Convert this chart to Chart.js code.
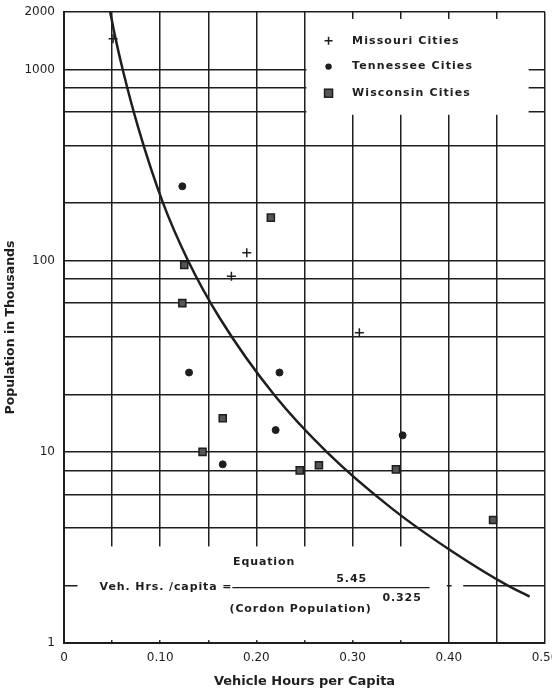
<!DOCTYPE html>
<html>
<head>
<meta charset="utf-8">
<script src="https://cdn.jsdelivr.net/npm/chart.js@4.4.1/dist/chart.umd.min.js"></script>
<style>
  html, body { margin: 0; padding: 0; background: #fff; }
  #wrap { width: 552px; height: 689px; }
</style>
</head>
<body>
<div id="wrap"><canvas id="chart"></canvas></div>
<script>
// ================= DATA =================
const missouriX = [0.051, 0.174, 0.19, 0.307];
const missouriPop = [1450, 83, 110, 42];

const tennesseeX = [0.123, 0.13, 0.165, 0.22, 0.224, 0.352];
const tennesseePop = [245, 26, 8.6, 13, 26, 12.2];

const wisconsinX = [0.125, 0.123, 0.215, 0.165, 0.144, 0.245, 0.265, 0.345, 0.446];
const wisconsinPop = [95, 60, 168, 15, 10, 8, 8.5, 8.1, 4.4];

// fitted curve, points
const curveX = [0.048, 0.053, 0.061, 0.077, 0.103, 0.129, 0.162, 0.218, 0.273, 0.342, 0.404, 0.461, 0.484];
const curvePop = [2000, 1500, 1000, 500, 200, 100, 50, 20, 10, 5, 3, 2, 1.75];

const yGridValues = [1, 2, 4, 6, 8, 10, 20, 40, 60, 80, 100, 200, 400, 600, 800, 1000, 2000];
const yLabelValues = [1, 10, 100, 1000, 2000];
const xTickLabels = ["0", "0.10", "0.20", "0.30", "0.40", "0.50"];

const legendLabels = ["Missouri Cities", "Tennessee Cities", "Wisconsin Cities"];

const toPoints = (xs, ys) => xs.map((x, i) => ({ x: x, y: ys[i] }));

// ================= STYLE =================
const INK = '#1e1e1e';
const FONT = '"DejaVu Sans", sans-serif';

// ================= PLUGINS =================
// white boxes where the legend and the equation sit on top of the grid
const maskPlugin = {
    id: 'masks',
    beforeDatasetsDraw(chart) {
        const { ctx, scales: { x, y } } = chart;
        const boxes = [
            [0.252, 0.483, 580, 1840],
            [0.014, 0.398, 1.035, 3.2],
            [0.403, 0.415, 1.9, 2.1]
        ];
        ctx.save();
        ctx.fillStyle = '#fff';
        boxes.forEach(b => {
            const x0 = x.getPixelForValue(b[0]), x1 = x.getPixelForValue(b[1]);
            const y0 = y.getPixelForValue(b[2]), y1 = y.getPixelForValue(b[3]);
            ctx.fillRect(x0, y1, x1 - x0, y0 - y1);
        });
        ctx.restore();
    }
};

const annotatePlugin = {
    id: 'annotate',
    afterDraw(chart) {
        const { ctx, scales: { x, y } } = chart;
        ctx.save();
        ctx.fillStyle = INK;
        ctx.strokeStyle = INK;
        ctx.textBaseline = 'middle';
        ctx.font = 'bold 11px ' + FONT;
        ctx.letterSpacing = '1.1px';

        // legend
        const mx = x.getPixelForValue(0.275);
        const tx = x.getPixelForValue(0.2995);
        const rows = [1413, 1036, 752].map(v => y.getPixelForValue(v));
        legendLabels.forEach((lab, i) => {
            ctx.fillText(lab, tx, rows[i]);
        });
        ctx.lineWidth = 1.5;
        ctx.beginPath();
        ctx.moveTo(mx - 4, rows[0]); ctx.lineTo(mx + 4, rows[0]);
        ctx.moveTo(mx, rows[0] - 4); ctx.lineTo(mx, rows[0] + 4);
        ctx.stroke();
        ctx.beginPath();
        ctx.arc(mx, rows[1], 3.2, 0, Math.PI * 2);
        ctx.fill();
        ctx.fillStyle = '#555';
        ctx.fillRect(mx - 4, rows[2] - 4, 8, 8);
        ctx.strokeRect(mx - 4, rows[2] - 4, 8, 8);
        ctx.fillStyle = INK;

        // equation
        ctx.letterSpacing = '0.9px';
        ctx.textAlign = 'center';
        ctx.fillText('Equation', x.getPixelForValue(0.208), y.getPixelForValue(2.66));
        ctx.fillText('5.45', x.getPixelForValue(0.299), y.getPixelForValue(2.17));
        ctx.textAlign = 'left';
        ctx.fillText('Veh. Hrs. /capita =', x.getPixelForValue(0.037), y.getPixelForValue(1.97));
        ctx.fillText('(Cordon Population)', x.getPixelForValue(0.172), y.getPixelForValue(1.5));
        ctx.fillText('0.325', x.getPixelForValue(0.331), y.getPixelForValue(1.71));
        ctx.lineWidth = 1.3;
        ctx.beginPath();
        const ly = y.getPixelForValue(1.95);
        ctx.moveTo(x.getPixelForValue(0.175), ly);
        ctx.lineTo(x.getPixelForValue(0.38), ly);
        ctx.stroke();
        ctx.restore();
    }
};

// ================= CHART =================
const ctx = document.getElementById('chart').getContext('2d');

new Chart(ctx, {
    type: 'scatter',
    data: {
        datasets: [
            {
                label: 'Curve',
                data: toPoints(curveX, curvePop),
                showLine: true,
                borderColor: INK,
                borderWidth: 2.5,
                pointRadius: 0,
                cubicInterpolationMode: 'monotone'
            },
            {
                label: legendLabels[0],
                data: toPoints(missouriX, missouriPop),
                pointStyle: 'cross',
                pointRadius: 4.5,
                borderColor: INK,
                borderWidth: 1.5
            },
            {
                label: legendLabels[1],
                data: toPoints(tennesseeX, tennesseePop),
                pointStyle: 'circle',
                pointRadius: 3.5,
                backgroundColor: INK,
                borderColor: INK,
                borderWidth: 1
            },
            {
                label: legendLabels[2],
                data: toPoints(wisconsinX, wisconsinPop),
                pointStyle: 'rect',
                pointRadius: 5,
                backgroundColor: '#555',
                borderColor: INK,
                borderWidth: 1.5
            }
        ]
    },
    options: {
        responsive: true,
        maintainAspectRatio: false,
        animation: false,
        layout: { padding: { top: 12, right: 7, left: 0, bottom: 0 } },
        plugins: {
            legend: { display: false },
            tooltip: { enabled: false }
        },
        scales: {
            x: {
                type: 'linear',
                min: 0,
                max: 0.5,
                afterFit: (s) => { s.height = 46; s.paddingRight = 0; s.paddingLeft = 0; },
                ticks: {
                    stepSize: 0.05,
                    maxRotation: 0,
                    autoSkip: false,
                    padding: 8,
                    color: INK,
                    font: { family: FONT, size: 12 },
                    callback: (v) => {
                        const k = Math.round(v * 20);
                        return k % 2 === 0 ? xTickLabels[k / 2] : '';
                    }
                },
                grid: { color: INK, lineWidth: 1.5, drawTicks: false },
                border: { color: INK, width: 2 },
                title: {
                    display: true,
                    text: 'Vehicle Hours per Capita',
                    color: INK,
                    font: { family: FONT, size: 13, weight: 'bold' },
                    padding: { top: 0, bottom: 0 }
                }
            },
            y: {
                type: 'logarithmic',
                min: 1,
                max: 2000,
                afterBuildTicks: (s) => { s.ticks = yGridValues.map(v => ({ value: v })); },
                afterFit: (s) => { s.width = 64; s.paddingTop = 0; s.paddingBottom = 0; },
                ticks: {
                    autoSkip: false,
                    padding: 9,
                    color: INK,
                    font: { family: FONT, size: 12 },
                    callback: (v) => yLabelValues.includes(v) ? String(v) : ''
                },
                grid: { color: INK, lineWidth: 1.5, drawTicks: false },
                border: { color: INK, width: 2 },
                title: {
                    display: true,
                    text: 'Population in Thousands',
                    color: INK,
                    font: { family: FONT, size: 12.5, weight: 'bold' },
                    padding: { top: 3, bottom: 0 }
                }
            }
        }
    },
    plugins: [maskPlugin, annotatePlugin]
});
</script>
</body>
</html>
